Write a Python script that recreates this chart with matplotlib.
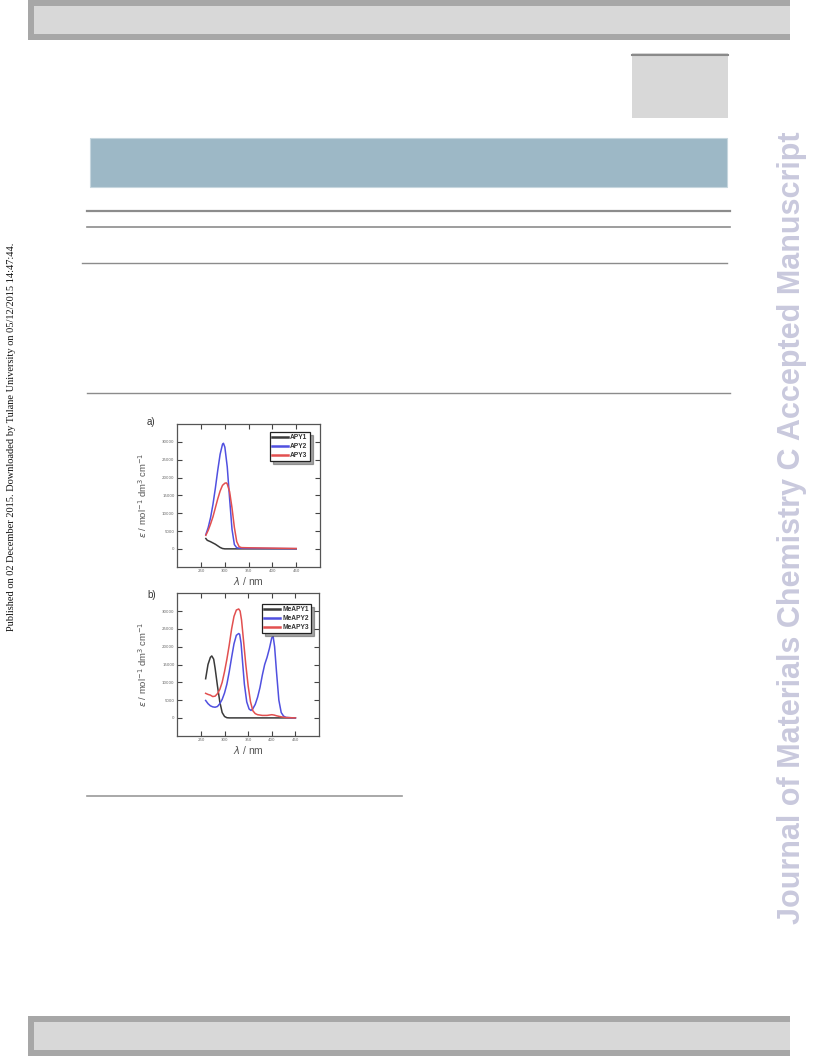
import matplotlib
matplotlib.use("Agg")
import matplotlib.pyplot as plt
from matplotlib.patches import Rectangle

# ---------------- data ----------------
# panel a
apy1_x = [260, 263, 270, 280, 290, 295, 300, 350, 400, 450]
apy1_y = [2900, 2400, 2000, 1300, 400, 100, 0, 0, 0, 0]

apy2_x = [260, 265, 270, 275, 280, 285, 290, 295, 297, 300, 305, 310, 315, 320, 325, 330, 350, 400, 450]
apy2_y = [4000, 6000, 8800, 12500, 17000, 22000, 26500, 29300, 29600, 28500, 23000, 14000, 5500, 1200, 300, 200, 150, 100, 50]

apy3_x = [260, 265, 270, 275, 280, 285, 290, 295, 300, 303, 305, 310, 315, 320, 325, 330, 335, 350, 400, 450]
apy3_y = [3800, 5200, 7000, 9000, 11500, 14000, 16200, 17800, 18400, 18500, 18200, 16000, 11500, 6000, 2000, 600, 350, 300, 200, 100]

# panel b
meapy1_x = [260, 265, 270, 273, 277, 280, 285, 290, 295, 300, 305, 310, 350, 400, 450]
meapy1_y = [11000, 15000, 17000, 17400, 16500, 14000, 9000, 4500, 1500, 400, 50, 0, 0, 0, 0]

meapy2_x = [260, 265, 270, 275, 280, 285, 290, 295, 300, 305, 310, 315, 320, 325, 330, 332, 335,
            338, 342, 347, 352, 356, 360, 365, 370, 375, 380, 385, 390, 395, 400, 403, 406, 410,
            415, 420, 425, 430, 440, 450]
meapy2_y = [4900, 4000, 3400, 3100, 3000, 3200, 4000, 5200, 7000, 9500, 13000, 17000, 20800, 23200,
            23700, 23500, 21000, 16000, 9500, 4500, 2500, 2100, 2600, 3800, 5800, 8500, 12000,
            15000, 17000, 19500, 22500, 22800, 20000, 13000, 5000, 1500, 500, 150, 50, 0]

meapy3_x = [260, 265, 270, 275, 280, 285, 290, 295, 300, 305, 310, 315, 320, 325, 330, 333, 336,
            340, 345, 350, 355, 360, 365, 370, 380, 390, 400, 405, 410, 420, 430, 450]
meapy3_y = [6900, 6600, 6400, 6000, 6100, 6800, 8000, 10000, 13000, 16500, 20500, 25000, 28500,
            30300, 30600, 30000, 27500, 22000, 15000, 9000, 4500, 2000, 1200, 900, 700, 700, 900,
            800, 600, 300, 100, 0]

xticks = [250, 300, 350, 400, 450]
yticks = [0, 5000, 10000, 15000, 20000, 25000, 30000]

names_a = ["APY1", "APY2", "APY3"]
names_b = ["MeAPY1", "MeAPY2", "MeAPY3"]
colors = ["#3a3a3a", "#5050e0", "#e25050"]

W, H = 816, 1056
fig = plt.figure(figsize=(W / 100, H / 100), dpi=100)
fig.patch.set_facecolor("white")

# ---------------- page decorations ----------------
bg = fig.add_axes([0, 0, 1, 1])
bg.set_xlim(0, W)
bg.set_ylim(H, 0)
bg.axis("off")

def rect(x0, y0, x1, y1, fc, ec="none", lw=0, z=1):
    bg.add_patch(Rectangle((x0, y0), x1 - x0, y1 - y0, facecolor=fc, edgecolor=ec, linewidth=lw, zorder=z))

# header band
rect(28, 0, 790, 40, "#a7a7a7")
rect(34, 6, 790, 34, "#d8d8d8", z=2)
# footer band
rect(28, 1016, 790, 1056, "#a7a7a7")
rect(34, 1022, 790, 1050, "#d8d8d8", z=2)
# small grey square
rect(632, 53, 728, 118, "#d8d8d8")
bg.plot([632, 728], [54.5, 54.5], color="#8a8a8a", lw=1.5, zorder=3)
# blue-grey title box
rect(90, 138, 727, 187, "#9db8c6", ec="#c6d6de", lw=0.8)
# horizontal rules
bg.plot([87, 730], [210.5, 210.5], color="#8c8c8c", lw=1.6)
bg.plot([87, 730], [227, 227], color="#8c8c8c", lw=1.2)
bg.plot([82, 727], [262.5, 262.5], color="#8c8c8c", lw=1.0)
bg.plot([87, 730], [393, 393], color="#8c8c8c", lw=1.0)
bg.plot([87, 402], [796, 796], color="#9a9a9a", lw=1.2)

# watermark
bg.text(792, 528, "Journal of Materials Chemistry C Accepted Manuscript", rotation=90,
        ha="center", va="center", fontsize=22, fontweight="bold",
        family="Liberation Sans", color="#c9c9dd")
# left margin note
bg.text(12, 437, "Published on 02 December 2015. Downloaded by Tulane University on 05/12/2015 14:47:44.",
        rotation=90, ha="center", va="center", fontsize=7.5, family="Liberation Serif", color="#111111")

# ---------------- plots ----------------
def make_axes(l, t, r, b):
    return fig.add_axes([l / W, 1 - b / H, (r - l) / W, (b - t) / H])

def style(ax):
    ax.set_xlim(200, 500)
    ax.set_ylim(-5000, 35000)
    ax.set_xticks(xticks)
    ax.set_yticks(yticks)
    ax.set_xticklabels([str(v) for v in xticks])
    ax.set_yticklabels([str(v) for v in yticks])
    ax.tick_params(direction="in", top=True, right=True, length=3.5, width=0.8,
                   color="#444444", labelsize=2.8, labelcolor="#666666", pad=2)
    for s in ax.spines.values():
        s.set_color("#555555")
        s.set_linewidth(0.9)
    ax.set_ylabel(r"$\varepsilon$ / mol$^{-1}$ dm$^{3}$ cm$^{-1}$", fontsize=6.8, color="#555555",
                  family="Liberation Sans")
    ax.yaxis.set_label_coords(-0.2, 0.5)
    ax.set_xlabel(r"$\lambda$ / nm", fontsize=7.4, color="#555555", family="Liberation Sans",
                  labelpad=1.0)

def legend(ax, names, anchor):
    leg = ax.legend(names, loc="upper right", bbox_to_anchor=anchor,
                    prop={"family": "Liberation Sans", "weight": "bold", "size": 4.8},
                    frameon=True, fancybox=False, shadow=True, handlelength=2.4,
                    handletextpad=0.3, borderpad=0.35, labelspacing=0.28, borderaxespad=0.0)
    leg.get_frame().set_edgecolor("#222222")
    leg.get_frame().set_linewidth(0.9)
    for t in leg.get_texts():
        t.set_color("#333333")
    for h in leg.get_lines():
        h.set_linewidth(1.8)

ax_a = make_axes(177.3, 424, 320, 566.7)
ax_a.plot(apy1_x, apy1_y, color=colors[0], lw=1.1)
ax_a.plot(apy2_x, apy2_y, color=colors[1], lw=1.1)
ax_a.plot(apy3_x, apy3_y, color=colors[2], lw=1.1)
style(ax_a)
legend(ax_a, names_a, (0.93, 0.944))

ax_b = make_axes(177.3, 593.3, 319, 735.7)
ax_b.plot(meapy1_x, meapy1_y, color=colors[0], lw=1.1)
ax_b.plot(meapy2_x, meapy2_y, color=colors[1], lw=1.1)
ax_b.plot(meapy3_x, meapy3_y, color=colors[2], lw=1.1)
style(ax_b)
legend(ax_b, names_b, (0.944, 0.925))

bg.text(147, 422, "a)", fontsize=7, family="Liberation Sans", color="#333333", ha="left", va="center")
bg.text(147, 595, "b)", fontsize=7, family="Liberation Sans", color="#333333", ha="left", va="center")

fig.savefig("out.png", dpi=100)
